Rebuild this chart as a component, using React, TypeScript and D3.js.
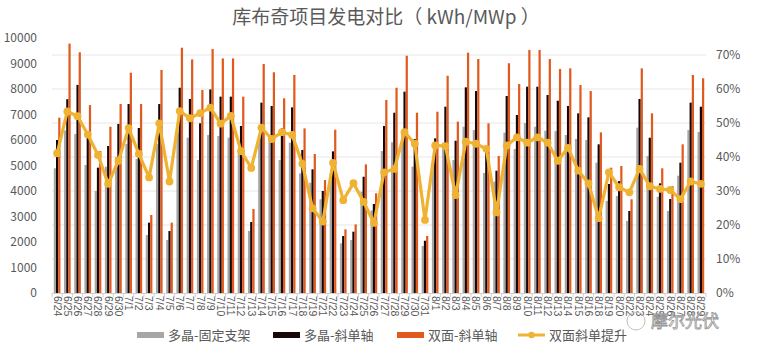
import * as d3 from "d3";

const dates = [
  "6/24", "6/25", "6/26", "6/27", "6/28", "6/29", "6/30",
  "7/1", "7/2", "7/3", "7/4", "7/5", "7/6", "7/7", "7/8", "7/9", "7/10",
  "7/11", "7/12", "7/13", "7/14", "7/15", "7/16", "7/17", "7/18", "7/19",
  "7/21", "7/22", "7/23", "7/24", "7/25", "7/26", "7/27", "7/28", "7/29", "7/30", "7/31",
  "8/1", "8/2", "8/3", "8/4", "8/5", "8/6", "8/7", "8/8", "8/9", "8/10",
  "8/11", "8/12", "8/13", "8/14", "8/15", "8/16", "8/18", "8/19", "8/20",
  "8/22", "8/23", "8/24", "8/25", "8/26", "8/27", "8/28", "8/29",
];

// 多晶-固定支架
const polyFixed = [
  4890, 6375, 6235, 5020, 4000, 4955, 5335, 5845, 5255, 2275, 5845, 2080, 6267, 6090, 5215, 6195,
  6155, 6090, 5475, 2430, 6043, 5935, 5215, 5895, 4690, 4325, 3675, 4631, 1945, 2080, 3975, 3242,
  5570, 5910, 6317, 4955, 1845, 4958, 5895, 5215, 6520, 6390, 4705, 4365, 6285, 5645, 6665, 6520,
  6363, 6350, 6195, 6040, 6000, 5110, 3610, 3805, 2825, 6485, 5370, 3775, 3215, 4600, 6390, 6315,
];
// 多晶-斜单轴
const polyTracker = [
  6000, 7600, 8160, 6130, 4915, 5765, 6630, 7410, 6470, 2760, 7410, 2430, 8050, 7610, 6655, 7985,
  7700, 7700, 6550, 2785, 7465, 7335, 6455, 7280, 5610, 4850, 4000, 5555, 2235, 2405, 4560, 3490,
  6550, 7070, 7895, 6040, 2050, 6065, 7305, 5970, 8065, 7920, 5765, 4795, 7725, 6980, 8090, 8090,
  7765, 7540, 7335, 7045, 6890, 5830, 4275, 4390, 3215, 7610, 6090, 4300, 3685, 5110, 7465, 7305,
];
// 双面-斜单轴
const bifiTracker = [
  6875, 9780, 9440, 7370, 5570, 6520, 7410, 8640, 7410, 3060, 8745, 2760, 9620, 9160, 7960, 9570,
  9200, 9200, 7700, 3295, 8980, 8655, 7635, 8550, 6455, 5450, 4430, 6405, 2495, 2690, 5045, 3910,
  7570, 8050, 9305, 7070, 2235, 7110, 8520, 6720, 9425, 9175, 6655, 5370, 9010, 8195, 9530, 9530,
  9175, 8785, 8810, 8155, 7920, 6300, 4915, 4980, 3675, 8810, 7045, 4890, 4195, 5830, 8550, 8420,
];
// 双面斜单提升 (%)
const gain = [
  41.1, 53.4, 52.0, 46.6, 40.6, 32.1, 38.9, 48.5, 40.9, 34.0, 49.9, 32.8, 53.5, 51.4, 52.9, 54.5,
  49.8, 52.1, 41.7, 36.8, 48.6, 45.3, 47.3, 46.5, 38.0, 24.9, 21.0, 38.3, 27.3, 32.3, 26.8, 20.6,
  35.5, 36.5, 47.3, 43.9, 21.5, 43.4, 43.2, 28.8, 44.5, 43.9, 42.4, 23.7, 43.4, 45.8, 44.2, 45.8,
  44.2, 38.9, 42.7, 36.0, 32.2, 22.0, 35.5, 31.1, 29.6, 36.5, 31.4, 30.6, 30.3, 27.6, 32.8, 32.1,
];

const leftTicks = [0, 1000, 2000, 3000, 4000, 5000, 6000, 7000, 8000, 9000, 10000];
const rightTicks = [0, 10, 20, 30, 40, 50, 60, 70];

const seriesNames = ["多晶-固定支架", "多晶-斜单轴", "双面-斜单轴"];
const lineName = "双面斜单提升";
const barColors = ["#a6a6a6", "#170707", "#e0591d"];
const lineColor = "#f0b232";
const textColor = "#595959";
const font = "'Noto Sans CJK SC', 'Liberation Sans', sans-serif";

const W = 759;
const H = 353;
const left = 52;
const right = 706;
const top = 38;
const bottom = 293;

export default function App() {
  const x = d3.scaleBand<string>().domain(dates).range([left, right]).paddingInner(0.35).paddingOuter(0.175);
  const sub = d3.scaleBand<number>().domain([0, 1, 2]).range([0, x.bandwidth()]);
  const yL = d3.scaleLinear().domain([0, 10000]).range([bottom, top]);
  const yR = d3.scaleLinear().domain([0, 75]).range([bottom, top]);

  const series = [polyFixed, polyTracker, bifiTracker];
  const step = x.step();
  const cx = (d: string) => (x(d) ?? 0) + x.bandwidth() / 2;

  const line = d3
    .line<number>()
    .x((_, i) => cx(dates[i]))
    .y((v) => yR(v));

  const legend = [
    { name: seriesNames[0], kind: "bar", color: barColors[0], x: 137 },
    { name: seriesNames[1], kind: "bar", color: barColors[1], x: 273 },
    { name: seriesNames[2], kind: "bar", color: barColors[2], x: 397 },
    { name: lineName, kind: "line", color: lineColor, x: 518 },
  ];

  return (
    <svg
      width={W}
      height={H}
      style={{ position: "absolute", left: 0, top: 0, background: "#fff" }}
      fontFamily={font}
    >
      <text x={386} y={24} textAnchor="middle" fontSize={19} fill={textColor}>
        库布奇项目发电对比（ kWh/MWp ）
      </text>

      {/* gridlines follow the secondary axis */}
      {rightTicks.slice(1).map((t) => (
        <line key={t} x1={left} x2={right} y1={yR(t)} y2={yR(t)} stroke="#e6e6e6" />
      ))}

      {leftTicks.map((t) => (
        <text key={t} x={37} y={yL(t)} dy="0.35em" textAnchor="end" fontSize={12} fill={textColor}>
          {t}
        </text>
      ))}
      {rightTicks.map((t) => (
        <text key={t} x={716} y={yR(t)} dy="0.35em" fontSize={12} fill={textColor}>
          {t}%
        </text>
      ))}

      {series.map((vals, s) => (
        <g key={s} fill={barColors[s]}>
          {vals.map((v, i) => (
            <rect
              key={i}
              x={(x(dates[i]) ?? 0) + (sub(s) ?? 0)}
              y={yL(v)}
              width={sub.bandwidth()}
              height={bottom - yL(v)}
            />
          ))}
        </g>
      ))}

      <line x1={left} x2={right} y1={bottom + 0.5} y2={bottom + 0.5} stroke="#d0d0d0" />
      {d3.range(dates.length + 1).map((i) => (
        <line
          key={i}
          x1={left + i * step}
          x2={left + i * step}
          y1={bottom}
          y2={bottom + 4}
          stroke="#d0d0d0"
        />
      ))}

      {dates.map((d) => (
        <text
          key={d}
          transform={`translate(${cx(d) - 3.6},${bottom + 3}) rotate(90)`}
          fontSize={10.5}
          fill={textColor}
          fontFamily="'Liberation Sans', sans-serif"
        >
          {d}
        </text>
      ))}

      <path d={line(gain) ?? ""} fill="none" stroke={lineColor} strokeWidth={3.2} strokeLinejoin="round" />
      {gain.map((v, i) => (
        <circle key={i} cx={cx(dates[i])} cy={yR(v)} r={3.9} fill={lineColor} />
      ))}

      {legend.map((l) => (
        <g key={l.name}>
          {l.kind === "bar" ? (
            <rect x={l.x} y={332} width={27} height={6} fill={l.color} />
          ) : (
            <g>
              <line x1={l.x} x2={l.x + 27} y1={335} y2={335} stroke={l.color} strokeWidth={3} />
              <circle cx={l.x + 13.5} cy={335} r={3.2} fill={l.color} />
            </g>
          )}
          <text x={l.x + 31} y={335} dy="0.35em" fontSize={13} fill={textColor}>
            {l.name}
          </text>
        </g>
      ))}

      {/* watermark */}
      <g opacity={0.9}>
        <circle cx={636} cy={321} r={9} fill="none" stroke="#bbb" strokeWidth={1} />
        <text x={651} y={327} fontSize={17} fill="#fff" stroke="#8a8a8a" strokeWidth={0.8}>
          摩尔光伏
        </text>
      </g>
    </svg>
  );
}
